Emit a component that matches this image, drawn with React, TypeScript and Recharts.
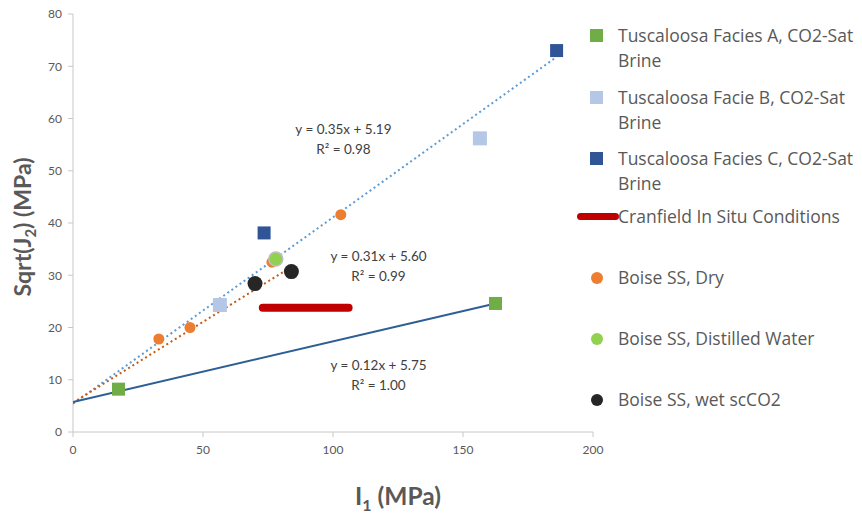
import { ReferenceDot, Scatter, ScatterChart, XAxis, YAxis, ZAxis } from 'recharts'

const faciesA = [{ x: 17.5, y: 8.2 }, { x: 162.5, y: 24.6 }]
const faciesB = [{ x: 56.5, y: 24.3 }, { x: 156.5, y: 56.2 }]
const faciesC = [{ x: 73.5, y: 38.1 }, { x: 186, y: 73 }]
const cranfield = [{ x: 73, y: 23.8 }, { x: 106, y: 23.8 }]
const boiseDry = [{ x: 33, y: 17.8 }, { x: 45, y: 20 }, { x: 76.5, y: 32.5 }, { x: 103, y: 41.6 }]
const boiseWater = [{ x: 78, y: 33.1 }]
const boiseCO2 = [{ x: 70, y: 28.4 }, { x: 84, y: 30.7 }]

// trendline end points
const trendAll = [{ x: 0, y: 5.4 }, { x: 185.5, y: 71.6 }]
const trendDry = [{ x: 0, y: 5.6 }, { x: 84, y: 31.6 }]
const trendA = [{ x: 0, y: 5.75 }, { x: 162.5, y: 24.6 }]

const xTicks = [0, 50, 100, 150, 200]
const yTicks = [0, 10, 20, 30, 40, 50, 60, 70, 80]

const equations = [
  { x: 104, y: 57, eq: 'y = 0.35x + 5.19', r2: 'R² = 0.98' },
  { x: 117.5, y: 32.8, eq: 'y = 0.31x + 5.60', r2: 'R² = 0.99' },
  { x: 117.5, y: 11.9, eq: 'y = 0.12x + 5.75', r2: 'R² = 1.00' },
]

const legendItems = [
  { kind: 'square', color: '#70ad47', lines: ['Tuscaloosa Facies A, CO2-Sat', 'Brine'] },
  { kind: 'square', color: '#b4c7e7', lines: ['Tuscaloosa Facie B, CO2-Sat', 'Brine'] },
  { kind: 'square', color: '#2f5597', lines: ['Tuscaloosa Facies C, CO2-Sat', 'Brine'] },
  { kind: 'bar', color: '#c00000', lines: ['Cranfield In Situ Conditions'] },
  { kind: 'circle', color: '#ed7d31', lines: ['Boise SS, Dry'] },
  { kind: 'circle', color: '#92d050', lines: ['Boise SS, Distilled Water'] },
  { kind: 'circle', color: '#262626', lines: ['Boise SS, wet scCO2'] },
]

const FONT = 'Lato, "Open Sans", sans-serif'
const LEGEND_FONT = '"Open Sans", Lato, sans-serif'
const TEXT = '#595959'
const AXIS = '#c8c8c8'

const square = (color: string, size: number) => (p: any) => (
  <rect x={p.cx - size / 2} y={p.cy - size / 2} width={size} height={size} fill={color} />
)
const circle = (color: string, r: number, stroke?: string) => (p: any) => (
  <circle cx={p.cx} cy={p.cy} r={r} fill={color} stroke={stroke ?? 'none'} strokeWidth={stroke ? 1.5 : 0} />
)
const nothing = () => <g />

function EqLabel(p: any, eq: string, r2: string) {
  return (
    <g>
      <text x={p.cx} y={p.cy} textAnchor="middle" fontSize={13.5} fill="#404040" fontFamily={FONT}>{eq}</text>
      <text x={p.cx} y={p.cy + 20} textAnchor="middle" fontSize={13.5} fill="#404040" fontFamily={FONT}>{r2}</text>
    </g>
  )
}

function XTitle() {
  return (
    <text x={398} y={505} textAnchor="middle" fontSize={24.5} fontWeight="bold" fill={TEXT} fontFamily={FONT}>
      <tspan>I</tspan>
      <tspan fontSize={16} dy={6}>1</tspan>
      <tspan dy={-6}> (MPa)</tspan>
    </text>
  )
}

function YTitle() {
  const cy = 227
  return (
    <text x={31} y={cy} transform={`rotate(-90 31 ${cy})`} textAnchor="middle" fontSize={23} fontWeight="bold" fill={TEXT} fontFamily={FONT}>
      <tspan>Sqrt(J</tspan>
      <tspan fontSize={15} dy={5}>2</tspan>
      <tspan dy={-5}>) (MPa)</tspan>
    </text>
  )
}

function LegendBox() {
  const tops = [26, 88, 149, 207, 268, 329, 390]
  return (
    <div style={{ position: 'absolute', left: 575, top: 0, width: 287, height: 460, fontFamily: LEGEND_FONT, fontSize: 17.5, color: TEXT }}>
      {legendItems.map((it, i) => (
        <div key={i} style={{ position: 'absolute', left: 0, top: tops[i], width: 290 }}>
          {it.kind === 'square' && (
            <div style={{ position: 'absolute', left: 15, top: 3, width: 13, height: 13, background: it.color }} />
          )}
          {it.kind === 'circle' && (
            <div style={{ position: 'absolute', left: 16, top: 4, width: 12, height: 12, borderRadius: 6, background: it.color }} />
          )}
          {it.kind === 'bar' && (
            <div style={{ position: 'absolute', left: 2, top: 6, width: 42, height: 7, borderRadius: 4, background: it.color }} />
          )}
          <div style={{ position: 'absolute', left: 43, top: -3, lineHeight: '25px', whiteSpace: 'nowrap' }}>
            {it.lines.map((l, j) => (
              <div key={j}>{l}</div>
            ))}
          </div>
        </div>
      ))}
    </div>
  )
}

export default function App() {
  return (
    <div style={{ position: 'absolute', left: 0, top: 0, width: 862, height: 513, background: '#fff' }}>
      <ScatterChart width={862} height={513} margin={{ top: 14, right: 269, bottom: 0, left: 23 }}>
        <XAxis
          type="number"
          dataKey="x"
          domain={[0, 200]}
          ticks={xTicks}
          stroke={AXIS}
          tickSize={5}
          tick={{ fill: TEXT, fontSize: 12, fontFamily: FONT }}
          tickMargin={8}
          height={81}
          label={<XTitle />}
          allowDataOverflow
        />
        <YAxis
          type="number"
          dataKey="y"
          domain={[0, 80]}
          ticks={yTicks}
          stroke={AXIS}
          tickSize={5}
          tick={{ fill: TEXT, fontSize: 12, fontFamily: FONT }}
          tickMargin={6}
          width={50}
          label={<YTitle />}
          allowDataOverflow
        />
        <ZAxis range={[64, 64]} />
        <Scatter data={trendAll} line={{ stroke: '#5b9bd5', strokeWidth: 2, strokeDasharray: '2 3' }} shape={nothing} isAnimationActive={false} />
        <Scatter data={trendDry} line={{ stroke: '#c55a11', strokeWidth: 2, strokeDasharray: '2 3' }} shape={nothing} isAnimationActive={false} />
        <Scatter data={trendA} line={{ stroke: '#2e5e96', strokeWidth: 2 }} shape={nothing} isAnimationActive={false} />
        <Scatter data={cranfield} line={{ stroke: '#c00000', strokeWidth: 8, strokeLinecap: 'round' }} shape={nothing} isAnimationActive={false} />
        <Scatter data={faciesA} shape={square('#70ad47', 13)} isAnimationActive={false} />
        <Scatter data={faciesB} shape={square('#b4c7e7', 14)} isAnimationActive={false} />
        <Scatter data={faciesC} shape={square('#2f5597', 13)} isAnimationActive={false} />
        <Scatter data={boiseDry} shape={circle('#ed7d31', 5.5)} isAnimationActive={false} />
        <Scatter data={boiseWater} shape={circle('#92d050', 7, '#bfbfbf')} isAnimationActive={false} />
        <Scatter data={boiseCO2} shape={circle('#262626', 7.5)} isAnimationActive={false} />
        {equations.map((e, i) => (
          <ReferenceDot key={i} x={e.x} y={e.y} r={0} shape={(p: any) => EqLabel(p, e.eq, e.r2)} />
        ))}
      </ScatterChart>
      <LegendBox />
    </div>
  )
}
